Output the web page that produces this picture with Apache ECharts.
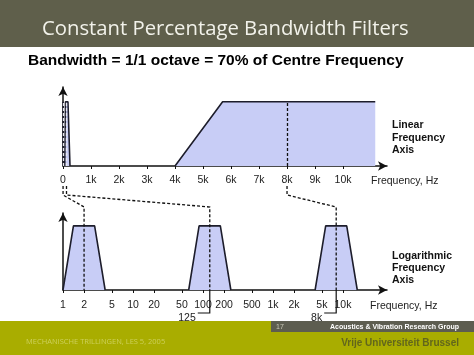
<!DOCTYPE html>
<html><head><meta charset="utf-8">
<script src="https://cdn.jsdelivr.net/npm/echarts@6/dist/echarts.min.js"></script>
<style>html,body{margin:0;padding:0;background:#fff}#c{width:474px;height:355px}</style>
</head><body><div id="c"></div>
<script>
// ---- data ----
const linearTicks = [0, 1000, 2000, 3000, 4000, 5000, 6000, 7000, 8000, 9000, 10000];
const logTicks = [1, 2, 5, 10, 20, 50, 100, 200, 500, 1000, 2000, 5000, 10000];
const centreFreqs = [2, 125, 8000];
const extraLabels = ['', '125', '8k'];
// filter shapes [frequency, relative level]
const filter2Hz = [[1, 0], [1.41, 1], [2.83, 1], [4, 0]];
const filter125Hz = [[62.5, 0], [88, 1], [177, 1], [250, 0]];
const filter8kHz = [[4000, 0], [5660, 1], [11310, 1], [16000, 0]];
const filter8kHzLinear = [[4000, 0], [5700, 1], [11150, 1]];

const chart = echarts.init(document.getElementById('c'));
const ink = '#1d1d2b';
const fillC = '#c8cdf6';
const font = 'Liberation Sans, Arial, sans-serif';

function fmtK(v) { return v >= 1000 ? (v / 1000) + 'k' : String(v); }

function filterSeries(data, xi, withMark, markColor) {
  const s = {
    type: 'line', xAxisIndex: xi, yAxisIndex: xi, data: data, symbol: 'none',
    lineStyle: { color: ink, width: 1.6 }, areaStyle: { color: fillC, opacity: 1 },
    silent: true, animation: false, z: 3
  };
  if (withMark) {
    s.markLine = {
      silent: true, symbol: 'none', label: { show: false }, animation: false,
      lineStyle: { color: markColor || '#111', type: [3, 2], width: 1.3 },
      data: withMark.map(f => [{ coord: [f, 0] }, { coord: [f, 1] }])
    };
  }
  return s;
}

const axisLineStyle = { color: '#111', width: 1.5 };
chart.setOption({
  animation: false,
  grid: [
    { left: 63, top: 87, width: 324, height: 79 },
    { left: 63, top: 213, width: 324, height: 77 }
  ],
  xAxis: [
    { type: 'value', gridIndex: 0, min: 0, max: 11570, interval: 1000,
      axisLine: { show: true, lineStyle: axisLineStyle, symbol: ['none', 'arrow'], symbolSize: [7, 9] },
      axisTick: { show: true, length: 3, customValues: linearTicks, lineStyle: { color: '#111' } },
      axisLabel: { customValues: linearTicks, formatter: fmtK, color: '#222', fontSize: 10.5, fontFamily: font, margin: 9 },
      splitLine: { show: false } },
    { type: 'log', gridIndex: 1, logBase: 10, min: 1, max: 42550,
      axisLine: { show: true, lineStyle: axisLineStyle, symbol: ['none', 'arrow'], symbolSize: [7, 9] },
      axisTick: { show: true, length: 3, customValues: logTicks, lineStyle: { color: '#111' } },
      axisLabel: { customValues: logTicks, formatter: fmtK, color: '#222', fontSize: 10.5, fontFamily: font, margin: 10 },
      splitLine: { show: false }, minorTick: { show: false } }
  ],
  yAxis: [
    { type: 'value', gridIndex: 0, min: 0, max: 1.23,
      axisLine: { show: true, lineStyle: axisLineStyle, symbol: ['none', 'arrow'], symbolSize: [7, 9] },
      axisTick: { show: false }, axisLabel: { show: false }, splitLine: { show: false } },
    { type: 'value', gridIndex: 1, min: 0, max: 1.2,
      axisLine: { show: true, lineStyle: axisLineStyle, symbol: ['none', 'arrow'], symbolSize: [7, 9] },
      axisTick: { show: false }, axisLabel: { show: false }, splitLine: { show: false } }
  ],
  series: [
    filterSeries(filter8kHzLinear, 0, [8000]),
    filterSeries(filter125Hz, 0),
    filterSeries(filter2Hz, 0, [2, 125], '#e8e8f0'),
    filterSeries(filter2Hz, 1),
    filterSeries(filter125Hz, 1),
    filterSeries(filter8kHz, 1)
  ]
});

// ---- decorations computed from the axes ----
const g = [];
const sans = '"Liberation Sans", Arial, sans-serif';
g.push({ type: 'rect', shape: { x: 0, y: 0, width: 474, height: 47 }, style: { fill: '#5f5f4b' }, z: 0 });
g.push({ type: 'text', x: 42, y: 29, style: { text: 'Constant Percentage Bandwidth Filters', fill: '#f2f2ea',
  font: '20.3px "Open Sans", sans-serif', textVerticalAlign: 'middle' } });
g.push({ type: 'text', x: 28, y: 61, style: { text: 'Bandwidth = 1/1 octave = 70% of Centre Frequency', fill: '#000',
  font: 'bold 15.5px ' + sans, textVerticalAlign: 'middle' } });
g.push({ type: 'rect', shape: { x: 0, y: 321, width: 474, height: 34 }, style: { fill: '#a9ad00' }, z: 0 });
g.push({ type: 'rect', shape: { x: 271, y: 321, width: 203, height: 11 }, style: { fill: '#5d5d50' }, z: 1 });
g.push({ type: 'text', x: 276, y: 327, style: { text: '17', fill: '#c9c9b8', font: '7px ' + sans, textVerticalAlign: 'middle' }, z: 2 });
g.push({ type: 'text', x: 459, y: 327, style: { text: 'Acoustics & Vibration Research Group', fill: '#ffffff',
  font: 'bold 7px ' + sans, textAlign: 'right', textVerticalAlign: 'middle' }, z: 2 });
g.push({ type: 'text', x: 26, y: 342, style: { text: 'MECHANISCHE TRILLINGEN, LES 5, 2005', fill: '#cdd05a',
  font: '7.5px "Open Sans", sans-serif', textVerticalAlign: 'middle' }, z: 2 });
g.push({ type: 'text', x: 459, y: 343, style: { text: 'Vrije Universiteit Brussel', fill: '#62661c',
  font: 'bold 10px ' + sans, textAlign: 'right', textVerticalAlign: 'middle' }, z: 2 });

// side captions
const capFont = 'bold 10.5px ' + sans;
['Linear', 'Frequency', 'Axis'].forEach((t, i) => g.push({ type: 'text', x: 392, y: 125 + i * 12.8,
  style: { text: t, fill: '#111', font: capFont, textVerticalAlign: 'middle' } }));
['Logarithmic', 'Frequency', 'Axis'].forEach((t, i) => g.push({ type: 'text', x: 392, y: 256 + i * 12.3,
  style: { text: t, fill: '#111', font: capFont, textVerticalAlign: 'middle' } }));
const axFont = '10.5px ' + sans;
g.push({ type: 'text', x: 371, y: 181, style: { text: 'Frequency, Hz', fill: '#222', font: axFont, textVerticalAlign: 'middle' } });
g.push({ type: 'text', x: 370, y: 306, style: { text: 'Frequency, Hz', fill: '#222', font: axFont, textVerticalAlign: 'middle' } });

// connectors between the two axes
const topAxisY = chart.convertToPixel({ gridIndex: 0 }, [0, 0])[1];
const botAxisY = chart.convertToPixel({ gridIndex: 1 }, [1, 0])[1];
const botTopY = chart.convertToPixel({ gridIndex: 1 }, [1, 1.2])[1];
centreFreqs.forEach((f, i) => {
  const xt = chart.convertToPixel({ gridIndex: 0 }, [f, 0])[0];
  const xb = chart.convertToPixel({ gridIndex: 1 }, [f, 0])[0];
  g.push({ type: 'polyline', z: 5, shape: { points: [[xt, topAxisY + 20], [xt, topAxisY + 29], [xb, botTopY - 6], [xb, botAxisY]] },
    style: { stroke: '#111', lineWidth: 1.3, lineDash: [3, 2], fill: null } });
  if (extraLabels[i]) {
    g.push({ type: 'polyline', z: 5, shape: { points: [[xb, botAxisY], [xb, botAxisY + 23], [xb - 12, botAxisY + 23]] },
      style: { stroke: '#111', lineWidth: 1.2, fill: null } });
    g.push({ type: 'text', x: xb - 14, y: botAxisY + 28, z: 5, style: { text: extraLabels[i], fill: '#222', font: axFont,
      textAlign: 'right', textVerticalAlign: 'middle' } });
  }
});
chart.setOption({ graphic: g });
</script></body></html>
